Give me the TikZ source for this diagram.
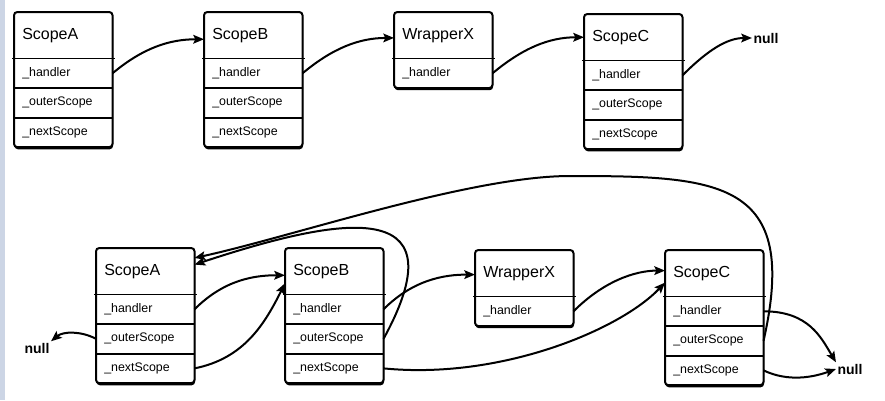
\documentclass[tikz,border=0pt]{standalone}
\usepackage{fontspec}
\setmainfont{Liberation Sans}
\usetikzlibrary{fit,backgrounds,shadows,arrows.meta}
\definecolor{stripcol}{RGB}{204,213,229}
\tikzset{
  hdr/.style={anchor=north west, minimum height=34.5pt, text width=61.5pt, inner xsep=6pt, inner ysep=0pt, align=left, font=\fontsize{12}{14}\selectfont},
  fld/.style={anchor=north, minimum height=21.75pt, text width=61.5pt, inner xsep=6pt, inner ysep=0pt, align=left, font=\fontsize{9.3}{11}\selectfont},
  frame/.style={draw, fill=white, line width=1.5pt, rounded corners=2.5pt, inner sep=0pt,
    drop shadow={shadow xshift=0.4pt, shadow yshift=-1.6pt, opacity=1, fill=black}},
  thinsep/.style={line width=0.6pt},
  thicksep/.style={line width=1.5pt},
  conn/.style={line width=1.5pt, -{Stealth[length=8pt,width=6.5pt,inset=1.5pt]}},
  nulltxt/.style={font=\bfseries\fontsize{10.5}{12}\selectfont, inner sep=1pt}
}
\newcommand{\MkScope}[3]{%
  \node[hdr] (#1t) at (#2) {#3};
  \node[fld] (#1h) at (#1t.south) {\_handler};
  \node[fld] (#1o) at (#1h.south) {\_outerScope};
  \node[fld] (#1n) at (#1o.south) {\_nextScope};
  \begin{scope}[on background layer]
    \node[frame, fit=(#1t)(#1n)] (#1) {};
  \end{scope}
  \draw[thinsep] ([xshift=-1.5pt]#1t.south west) -- ([xshift=1.5pt]#1t.south east);
  \draw[thicksep] (#1h.south west) -- (#1h.south east);
  \draw[thicksep] (#1o.south west) -- (#1o.south east);
}
\newcommand{\MkWrap}[3]{%
  \node[hdr] (#1t) at (#2) {#3};
  \node[fld] (#1h) at (#1t.south) {\_handler};
  \begin{scope}[on background layer]
    \node[frame, fit=(#1t)(#1h)] (#1) {};
  \end{scope}
  \draw[thinsep] ([xshift=-1.5pt]#1t.south west) -- ([xshift=1.5pt]#1t.south east);
}
\begin{document}
\begin{tikzpicture}[x=0.75pt,y=-0.75pt]
\useasboundingbox (0,0) rectangle (885,400);
\begin{scope}[on background layer]
  \fill[white] (0,0) rectangle (885,400);
  \fill[stripcol] (0,0) rectangle (5,400);
\end{scope}

% top row
\MkScope{tA}{14,12}{ScopeA}
\MkScope{tB}{204,12}{ScopeB}
\MkWrap{tW}{394,12}{WrapperX}
\MkScope{tC}{584,14}{ScopeC}
\node[nulltxt] (tnull) at (766,38) {null};

\draw[conn] (tAh.east) .. controls +(30,-25) and +(-35,0) .. ([yshift=-3pt]tBt.west);
\draw[conn] (tBh.east) .. controls +(30,-25) and +(-35,0) .. ([yshift=-2pt]tWt.west);
\draw[conn] (tWh.east) .. controls +(30,-25) and +(-35,0) .. (tCt.west);
\draw[conn] (tCh.east) .. controls +(25,-25) and +(-25,0) .. (tnull.west);

% bottom row
\MkScope{bA}{96,248}{ScopeA}
\MkScope{bB}{285,248}{ScopeB}
\MkWrap{bW}{475,250}{WrapperX}
\MkScope{bC}{665,250}{ScopeC}
\node[nulltxt] (bnull) at (37,348) {null};
\node[nulltxt] (bnullr) at (850,369) {null};
\coordinate (peakC) at (570,176);

\draw[conn] (bAh.east) .. controls +(30,-30) and +(-30,0) .. ([yshift=-3pt]bBt.west);
\draw[conn] (bAn.east) .. controls +(50,-10) and +(-20,40) .. ([yshift=-9pt]bBt.west);
\draw[conn] (bAo.west) .. controls +(-15,-8) and +(12,-10) .. (bnull.north east);
\draw[conn] (bBh.east) .. controls +(30,-30) and +(-30,0) .. ([yshift=-1pt]bWt.west);
\draw[conn] (bBo.east) .. controls (465,190) and (330,220) .. ([yshift=5pt]bAt.east);
\draw[conn] (bBn.east) .. controls (500,380) and (620,330) .. ([yshift=-7pt]bCt.west);
\draw[conn] (bWh.east) .. controls +(30,-30) and +(-30,0) .. ([yshift=2pt]bCt.west);
\draw[conn] (bCo.east) .. controls (800,180) and (720,176) .. (peakC)
   .. controls (470,176) and (291,237) .. ([yshift=10pt]bAt.east);
\draw[conn] (bCh.east) .. controls +(45,0) and +(-15,-25) .. (bnullr.north west);
\draw[conn] (bCn.east) .. controls +(25,12) and +(-22,8) .. (bnullr.west);
\end{tikzpicture}
\end{document}
